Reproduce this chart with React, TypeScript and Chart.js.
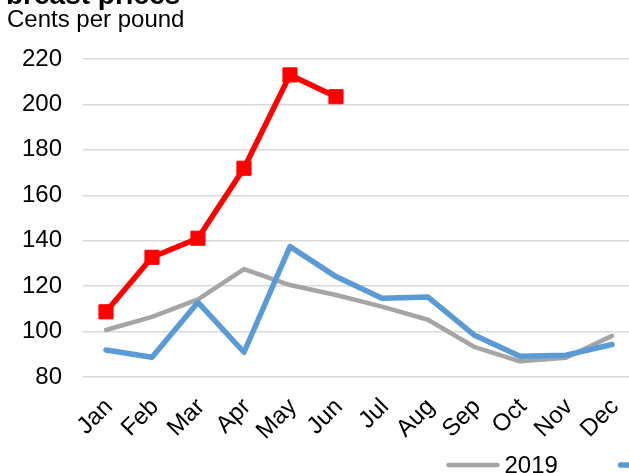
import React, { useEffect, useRef } from "react";
import { Chart, registerables } from "chart.js";

Chart.register(...registerables);

const months = ["Jan", "Feb", "Mar", "Apr", "May", "Jun", "Jul", "Aug", "Sep", "Oct", "Nov", "Dec"];
const yearLabels = ["2019", "2020", "2021"];
const values2019 = [100.7, 106.5, 114.2, 127.5, 120.5, 116.1, 111.0, 105.2, 93.3, 86.9, 88.5, 98.1];
const values2020 = [91.9, 88.7, 112.9, 90.9, 137.4, 124.2, 114.7, 115.2, 98.5, 89.1, 89.6, 94.3];
const values2021 = [108.7, 132.7, 141.1, 171.9, 213.0, 203.4];
const yTicks = [80, 100, 120, 140, 160, 180, 200, 220];

const FONT = '"Liberation Sans", Arial, sans-serif';

const bottomLegend = {
  id: "bottomLegend",
  afterDraw(chart: any) {
    const ctx = chart.ctx;
    const startX = 448.5;
    const step = 172;
    const y = 465;
    const lineLen = 49;
    ctx.save();
    ctx.font = `24px ${FONT}`;
    ctx.textBaseline = "middle";
    ctx.textAlign = "left";
    chart.data.datasets.forEach((ds: any, i: number) => {
      const x = startX + i * step;
      ctx.strokeStyle = ds.borderColor;
      ctx.lineWidth = ds.borderWidth;
      ctx.lineCap = "round";
      ctx.beginPath();
      ctx.moveTo(x, y);
      ctx.lineTo(x + lineLen, y);
      ctx.stroke();
      if (ds.pointStyle === "rect") {
        ctx.fillStyle = ds.borderColor;
        ctx.fillRect(x + lineLen / 2 - 7, y - 7, 14, 14);
      }
      ctx.fillStyle = "#000";
      ctx.fillText(ds.label, x + lineLen + 7, y + 1);
    });
    ctx.restore();
  },
};

export default function App() {
  const ref = useRef<HTMLCanvasElement | null>(null);

  useEffect(() => {
    if (!ref.current) return;
    const chart = new Chart(ref.current, {
      type: "line",
      data: {
        labels: months,
        datasets: [
          {
            label: yearLabels[0],
            data: values2019,
            borderColor: "#A5A5A5",
            backgroundColor: "#A5A5A5",
            borderWidth: 4.5,
            pointRadius: 0,
            borderCapStyle: "round",
            borderJoinStyle: "round",
            order: 3,
          },
          {
            label: yearLabels[1],
            data: values2020,
            borderColor: "#5B9BD5",
            backgroundColor: "#5B9BD5",
            borderWidth: 5.5,
            pointRadius: 0,
            borderCapStyle: "round",
            borderJoinStyle: "round",
            order: 2,
          },
          {
            label: yearLabels[2],
            data: values2021,
            borderColor: "#FF0000",
            backgroundColor: "#FF0000",
            borderWidth: 5.5,
            pointStyle: "rect",
            pointRadius: 10,
            pointBorderWidth: 1,
            pointBackgroundColor: "#FF0000",
            pointBorderColor: "#FF0000",
            borderCapStyle: "round",
            borderJoinStyle: "round",
            order: 1,
          },
        ],
      },
      options: {
        responsive: false,
        animation: false,
        devicePixelRatio: 1,
        layout: { padding: { left: 22, top: 59, right: 25, bottom: 26 } },
        plugins: {
          title: { display: false },
          tooltip: { enabled: false },
          legend: { display: false },
        },
        scales: {
          x: {
            type: "category",
            offset: true,
            grid: { display: false },
            border: { display: false },
            ticks: {
              autoSkip: false,
              maxRotation: 45,
              minRotation: 45,
              padding: 8,
              labelOffset: 3,
              color: "#000",
              font: { family: FONT, size: 24 },
            },
            afterFit: (s: any) => {
              s.height = 70;
            },
          },
          y: {
            type: "linear",
            position: "left",
            min: 80,
            max: 220,
            afterBuildTicks: (s: any) => {
              s.ticks = yTicks.map((v) => ({ value: v }));
            },
            grid: { color: "#D9D9D9", lineWidth: 1.5, drawTicks: false },
            border: { display: false },
            ticks: {
              padding: 21,
              color: "#000",
              font: { family: FONT, size: 24 },
            },
            afterFit: (s: any) => {
              s.width = 61;
            },
          },
        },
      },
      plugins: [bottomLegend],
    });
    return () => chart.destroy();
  }, []);

  return (
    <div
      style={{
        position: "fixed",
        left: 0,
        top: 0,
        width: 629,
        height: 473,
        overflow: "hidden",
        background: "#fff",
      }}
    >
      <canvas
        ref={ref}
        width={660}
        height={473}
        style={{ position: "absolute", left: 0, top: 0, width: 660, height: 473 }}
      />
      <div
        style={{
          position: "absolute",
          left: 6,
          top: -19,
          fontFamily: FONT,
          fontWeight: "bold",
          fontSize: 28,
          lineHeight: "28px",
          whiteSpace: "nowrap",
          color: "#000",
        }}
      >
        breast prices
      </div>
      <div
        style={{
          position: "absolute",
          left: 7,
          top: 7,
          fontFamily: FONT,
          fontSize: 24,
          lineHeight: "24px",
          whiteSpace: "nowrap",
          color: "#000",
        }}
      >
        Cents per pound
      </div>
    </div>
  );
}
